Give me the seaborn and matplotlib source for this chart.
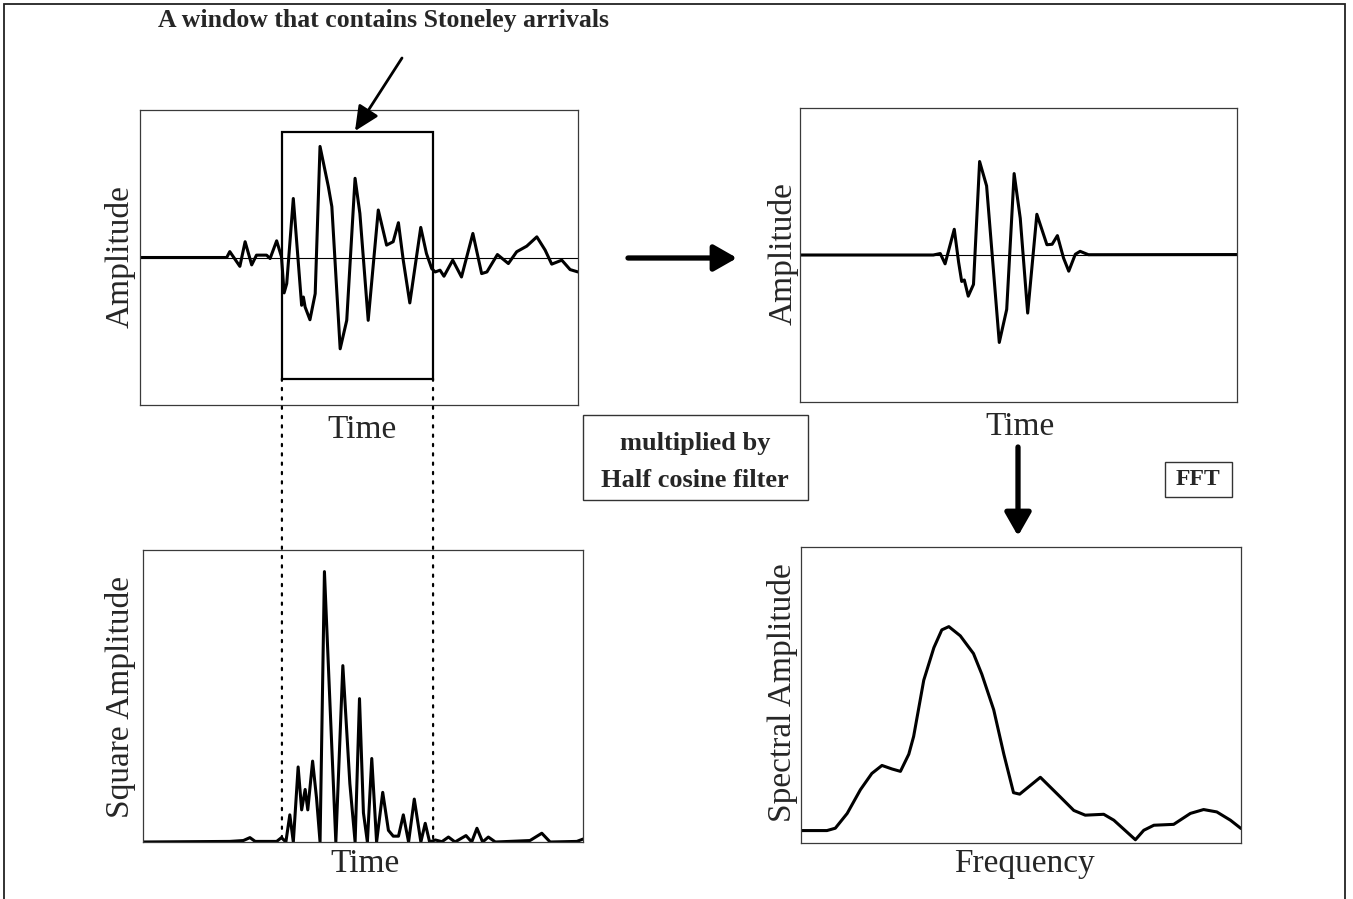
import matplotlib
matplotlib.use("Agg")
import matplotlib.pyplot as plt
import seaborn as sns
import numpy as np
import pandas as pd
from matplotlib.patches import Rectangle, FancyArrowPatch, ConnectionPatch

# ---------------- data ----------------
# raw waveform (top-left)
raw_time = [0, 19.8, 20.5, 22.8, 24.0, 25.5, 26.6, 28.9, 29.7, 31.2, 32.3, 32.9, 33.5, 35.0, 36.1,
            36.9, 37.3, 37.7, 38.8, 40.0, 41.1, 43.0, 43.8, 45.7, 47.2, 49.1, 50.2, 52.1, 54.4, 56.3,
            57.8, 59.0, 60.1, 61.6, 64.1, 65.4, 66.6, 67.4, 68.5, 69.4, 71.4, 73.4, 76.0, 78.0, 79.2,
            81.6, 84.1, 86.0, 88.3, 90.6, 92.5, 94.0, 96.3, 98.2, 100]
raw_amp = [0, 0, 0.04, -0.06, 0.107, -0.05, 0.016, 0.016, -0.007, 0.113, 0.005, -0.24, -0.177, 0.40, -0.018,
           -0.324, -0.268, -0.336, -0.422, -0.245, 0.753, 0.481, 0.345, -0.619, -0.426, 0.537, 0.299, -0.426, 0.322, 0.084,
           0.107, 0.236, -0.018, -0.308, 0.204, 0.027, -0.075, -0.098, -0.086, -0.127, -0.018, -0.132, 0.163, -0.109, -0.098,
           0.02, -0.041, 0.039, 0.077, 0.140, 0.05, -0.045, -0.018, -0.082, -0.098]

# filtered waveform (top-right)
filt_time = [0, 30.5, 32.1, 33.2, 35.3, 36.3, 37.0, 37.6, 38.5, 39.7, 41.1, 42.7, 45.6, 47.3, 49.0,
             50.4, 52.1, 54.2, 56.5, 57.7, 58.9, 60.3, 61.5, 63.0, 64.1, 66.0, 67.9, 100]
filt_amp = [0, 0, 0.01, -0.06, 0.175, -0.05, -0.18, -0.17, -0.28, -0.2, 0.636, 0.47, -0.595, -0.37, 0.554,
            0.25, -0.395, 0.277, 0.07, 0.073, 0.132, -0.02, -0.11, 0.005, 0.025, 0.002, 0.002, 0.003]

# squared amplitude (bottom-left)
sq_time = [0.7, 20.5, 23.6, 25.1, 26.3, 31.2, 32.3, 33.3, 34.2, 35.0, 36.1, 36.9, 37.7, 38.3, 39.4,
           40.3, 41.1, 42.1, 43.4, 44.7, 46.3, 47.9, 49.1, 50.1, 51.0, 51.9, 52.9, 54.0, 55.4, 56.7,
           57.8, 59.0, 60.1, 61.3, 62.6, 64.1, 65.1, 66.1, 67.4, 68.9, 70.4, 71.9, 74.4, 75.7, 76.9,
           78.2, 79.5, 81.1, 89.0, 91.7, 93.6, 99.7, 101.1]
sq_amp = [0, 0.002, 0.005, 0.015, 0.002, 0.002, 0.015, 0.0, 0.093, 0.0, 0.257, 0.11, 0.18, 0.11, 0.277,
          0.15, 0.0, 0.926, 0.46, 0.0, 0.604, 0.2, 0.0, 0.491, 0.1, 0.0, 0.286, 0.0, 0.17, 0.04,
          0.02, 0.02, 0.093, 0.0, 0.147, 0.0, 0.064, 0.0, 0.007, 0.001, 0.017, 0.0, 0.022, 0.0, 0.047,
          0.0, 0.017, 0.0, 0.005, 0.03, 0.0, 0.002, 0.01]

# spectrum (bottom-right)
spec_freq = [0.2, 5.9, 7.8, 10.5, 13.5, 16.1, 18.4, 20.7, 22.6, 24.5, 25.6, 27.9, 30.2, 32.0, 33.6,
             36.2, 39.2, 41.1, 43.8, 46.1, 48.3, 49.7, 54.4, 58.9, 62.0, 64.6, 68.8, 71.1, 76.0, 77.9,
             80.2, 84.7, 88.5, 91.5, 94.5, 97.6, 100]
spec_amp = [0.042, 0.042, 0.05, 0.10, 0.18, 0.235, 0.262, 0.25, 0.242, 0.30, 0.36, 0.55, 0.66, 0.72, 0.731,
            0.70, 0.64, 0.57, 0.45, 0.30, 0.17, 0.165, 0.222, 0.156, 0.11, 0.094, 0.097, 0.077, 0.011, 0.043,
            0.06, 0.063, 0.10, 0.113, 0.105, 0.077, 0.049]

# window containing the Stoneley arrivals (time units / amplitude units)
window_start, window_end = 32.4, 66.9
window_top, window_bottom = 0.852, -0.821

title_text = "A window that contains Stoneley arrivals"
filter_text = "multiplied by\nHalf cosine filter"
fft_text = "FFT"

# ---------------- styling ----------------
sns.set_style("white")
plt.rcParams['font.family'] = ['Liberation Serif', 'DejaVu Serif']

W, H = 1353, 899
fig = plt.figure(figsize=(W / 100, H / 100), dpi=100)


def fx(px):
    return px / W


def fy(py):
    return 1 - py / H


def add_ax(l, t, r, b):
    ax = fig.add_axes([fx(l), fy(b), (r - l) / W, (b - t) / H])
    ax.set_xticks([])
    ax.set_yticks([])
    for s in ax.spines.values():
        s.set_color('#3a3a3a')
        s.set_linewidth(0.9)
        s.set_visible(True)
    return ax


LW = 2.2
line_kw = dict(color='black', lw=LW, estimator=None, sort=False,
               solid_joinstyle='round', solid_capstyle='round')

ax1 = add_ax(140, 110, 578, 405)
sns.lineplot(x=raw_time, y=raw_amp, ax=ax1, **line_kw)
ax1.axhline(0, color='black', lw=0.8)
ax1.set_xlim(0, 100)
ax1.set_ylim(-1, 1)
ax1.add_patch(Rectangle((window_start, window_bottom), window_end - window_start,
                        window_top - window_bottom, fill=False, ec='black', lw=1.6))

ax2 = add_ax(800, 108, 1237, 402)
sns.lineplot(x=filt_time, y=filt_amp, ax=ax2, **line_kw)
ax2.axhline(0, color='black', lw=0.8)
ax2.set_xlim(0, 100)
ax2.set_ylim(-1, 1)

ax3 = add_ax(143, 550, 583, 842)
sns.lineplot(x=sq_time, y=sq_amp, ax=ax3, **line_kw)
ax3.set_xlim(0.7, 101.1)
ax3.set_ylim(0, 1)

ax4 = add_ax(801, 547, 1241, 843)
sns.lineplot(x=spec_freq, y=spec_amp, ax=ax4, **line_kw)
ax4.set_xlim(0, 100)
ax4.set_ylim(0, 1)

for ax in (ax1, ax2, ax3, ax4):
    ax.set_xlabel("")
    ax.set_ylabel("")
    ax.set_xticks([])
    ax.set_yticks([])

# dotted lines from window down to the square-amplitude panel
for xw in (window_start, window_end):
    cp = ConnectionPatch(xyA=(xw, window_bottom), coordsA=ax1.transData,
                         xyB=(xw, 0), coordsB=ax3.transData,
                         color='black', lw=1.6, linestyle=(0, (1, 3.2)))
    fig.add_artist(cp)

# axis labels
lab = 24
fig.text(fx(120), fy(257), "Amplitude", rotation=90, ha='center', va='center', fontsize=lab)
fig.text(fx(783), fy(254), "Amplitude", rotation=90, ha='center', va='center', fontsize=lab)
fig.text(fx(120), fy(697), "Square Amplitude", rotation=90, ha='center', va='center', fontsize=lab)
fig.text(fx(782), fy(693), "Spectral Amplitude", rotation=90, ha='center', va='center', fontsize=lab)
fig.text(fx(362), fy(430), "Time", ha='center', va='center', fontsize=lab)
fig.text(fx(1020), fy(427), "Time", ha='center', va='center', fontsize=lab)
fig.text(fx(365), fy(864), "Time", ha='center', va='center', fontsize=lab)
fig.text(fx(1024), fy(864), "Frequency", ha='center', va='center', fontsize=lab)

# title
fig.text(fx(383), fy(27), title_text, ha='center', va='baseline', fontsize=18.5, fontweight='bold')

# boxes
fig.add_artist(Rectangle((fx(583), fy(500)), (808 - 583) / W, (500 - 415) / H,
                         transform=fig.transFigure, fill=False, ec='#333333', lw=1.0))
fig.text(fx(695), fy(462), filter_text, ha='center', va='center', fontsize=19,
         fontweight='bold', linespacing=1.75)
fig.add_artist(Rectangle((fx(1165), fy(497)), (1232 - 1165) / W, (497 - 462) / H,
                         transform=fig.transFigure, fill=False, ec='#333333', lw=1.0))
fig.text(fx(1198), fy(479), fft_text, ha='center', va='center', fontsize=17, fontweight='bold')


# arrows
def arrow(p0, p1, lw, hl, hw):
    a = FancyArrowPatch((fx(p0[0]), fy(p0[1])), (fx(p1[0]), fy(p1[1])),
                        transform=fig.transFigure,
                        arrowstyle=f"-|>,head_length={hl},head_width={hw}",
                        mutation_scale=10, lw=lw, color='black',
                        shrinkA=0, shrinkB=0)
    fig.add_artist(a)


arrow((402, 58), (355, 131), 2.0, 1.5, 0.7)
arrow((628, 258), (737, 258), 3.8, 1.4, 0.8)
arrow((1018, 447), (1018, 536), 3.8, 1.4, 0.8)

# outer border (open at the bottom, as in the reference)
fig.add_artist(Rectangle((fx(4), fy(915)), (1345 - 4) / W, (915 - 4) / H,
                         transform=fig.transFigure, fill=False, ec='#222222', lw=1.3,
                         clip_on=False))

fig.savefig("out.png", dpi=100)
